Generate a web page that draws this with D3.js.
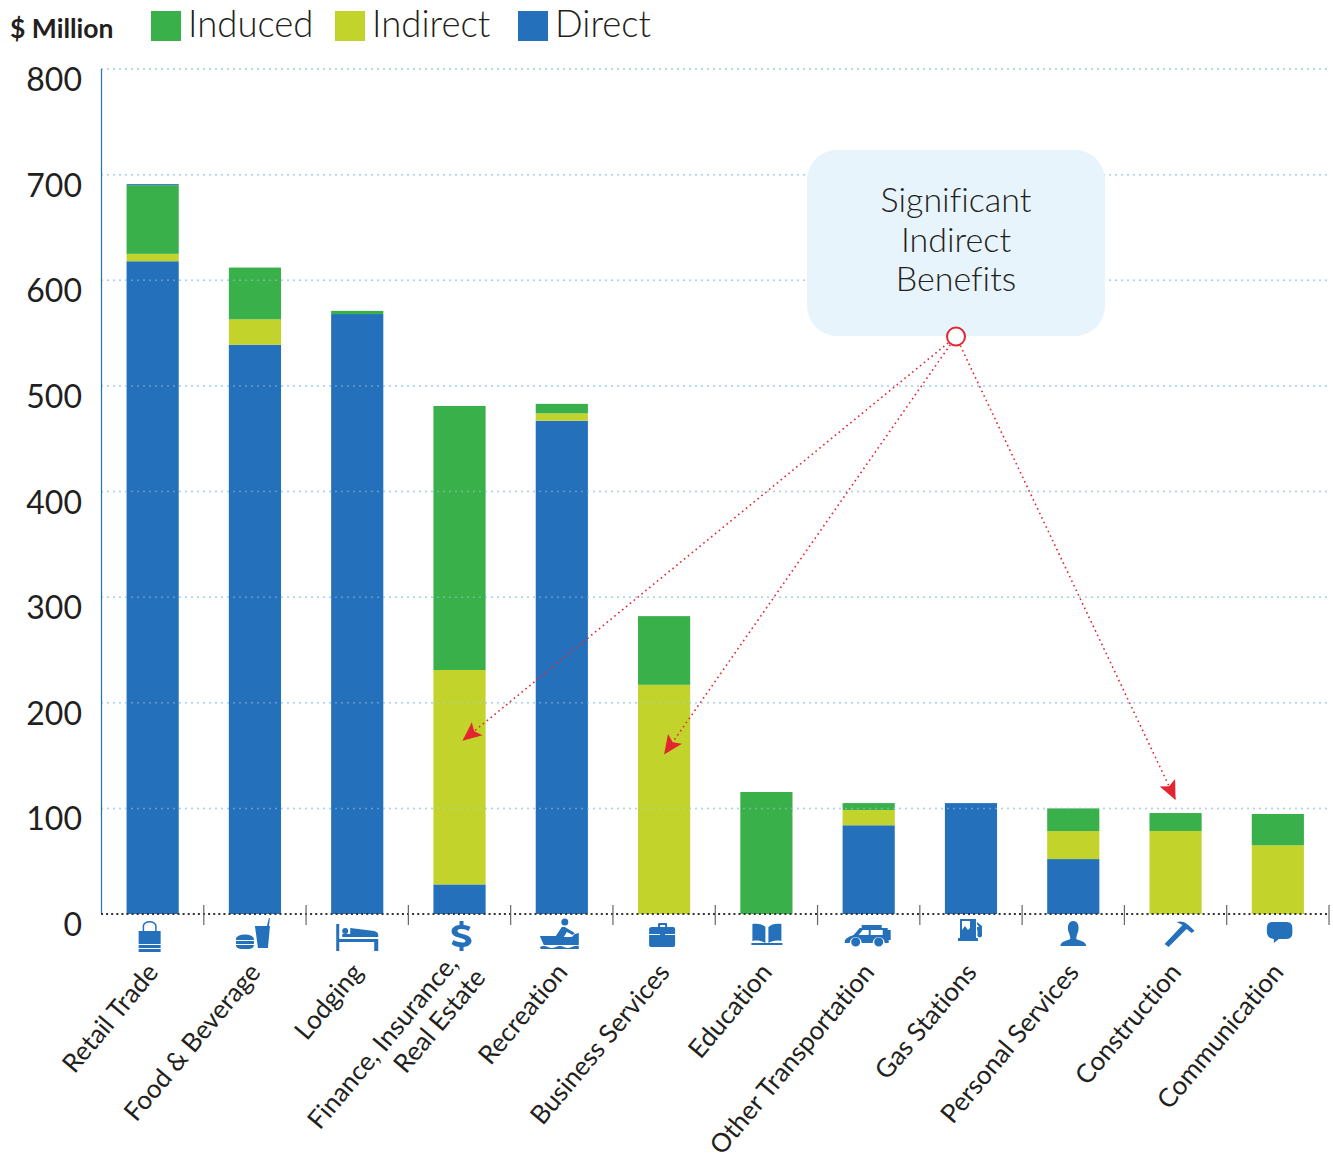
<!DOCTYPE html>
<html>
<head>
<meta charset="utf-8">
<script src="https://cdn.jsdelivr.net/npm/d3@7"></script>
<style>
html,body{margin:0;padding:0;background:#fff;overflow:hidden}
svg{display:block}
text{font-family:Lato,"Open Sans",sans-serif;fill:#231f20;font-variant-ligatures:none}
</style>
</head>
<body>
<svg id="chart" width="1333" height="1161"></svg>
<script>
const categories = ["Retail Trade","Food & Beverage","Lodging","Finance, Insurance,\nReal Estate","Recreation","Business Services","Education","Other Transportation","Gas Stations","Personal Services","Construction","Communication"];
const direct   = [618,539,568,28,467,0,0,84,105,52,0,0];
const indirect = [7,24,0,203,7,217,0,14.5,0,26.5,78.6,65];
const induced  = [65,49,3,250,9,65,115.5,6.5,0,21.5,17,29.7];
const topSliver = [1,0,0,0,0,0,0,0,0,0,0,0];
const yTicks = [0,100,200,300,400,500,600,700,800];
const legendLabels = ["Induced","Indirect","Direct"];
const calloutLines = ["Significant","Indirect","Benefits"];
const calloutTargets = [["Finance, Insurance,\nReal Estate",164],["Business Services",151],["Construction",108]];
const COL = {direct:"#2570bb",indirect:"#c2d42c",induced:"#39b04a",red:"#e2252f"};

const svg = d3.select("#chart");
const x = d3.scaleBand().domain(categories).range([101.5,1329]).paddingInner(0.49).paddingOuter(0.245);
const y = d3.scaleLinear().domain([0,800]).range([914,69]);
const cx = c => x(c)+x.bandwidth()/2;

function drawGrid(opacity){
  svg.append("g").attr("opacity",opacity).selectAll("line").data(yTicks.filter(d=>d>0)).join("line")
    .attr("x1",101).attr("x2",1329).attr("y1",d=>y(d)).attr("y2",d=>y(d))
    .attr("stroke","#a9d2f0").attr("stroke-width",1.5).attr("stroke-dasharray","2 4");
}

// y tick labels
svg.append("g").selectAll("text").data(yTicks).join("text")
  .attr("x",82).attr("y",d=>y(d)+22).attr("text-anchor","end")
  .attr("font-size",32).text(d=>d);

// stacked bars
const rows = categories.map((c,i)=>({c,direct:direct[i],indirect:indirect[i],induced:induced[i],sliver:topSliver[i]}));
const keys = ["direct","indirect","induced","sliver"];
const stacked = d3.stack().keys(keys)(rows);
drawGrid(1);
svg.append("g").selectAll("g").data(stacked).join("g")
  .attr("fill",s=>s.key==="sliver"?COL.direct:COL[s.key])
  .selectAll("rect").data(s=>s).join("rect")
  .attr("x",d=>x(d.data.c)).attr("width",x.bandwidth())
  .attr("y",d=>y(d[1])).attr("height",d=>y(d[0])-y(d[1]));
drawGrid(0.45);

// y axis line, dotted baseline, ticks
svg.append("line").attr("x1",101.5).attr("x2",101.5).attr("y1",69).attr("y2",914)
  .attr("stroke",COL.direct).attr("stroke-width",1.2);
svg.append("line").attr("x1",101).attr("x2",1329).attr("y1",914).attr("y2",914)
  .attr("stroke","#333").attr("stroke-width",2).attr("stroke-dasharray","2 3.1");
const step = x.step();
svg.append("g").selectAll("line").data(categories).join("line")
  .attr("x1",d=>cx(d)+step/2).attr("x2",d=>cx(d)+step/2)
  .attr("y1",905).attr("y2",925).attr("stroke","#666").attr("stroke-width",1.2);

// icons: local coordinates, origin = (bar centre - 3, 936)
const icons = [
 // bag
 "M-11,-5H11V8H-11Z M-7,-5V-10A7,5 0 0 1 7,-10V-5H5.5V-10A5.5,3.5 0 0 0 -5.5,-10V-5Z M-11,9H11V12H-11Z M-11,13H11V16H-11Z",
 // burger and drink
 "M3,-10H18L16,12H6Z M15,-10L17,-18H18L17,-10Z M-16,3A9,4.5 0 0 1 2,3V4H-16Z M-16,5H2V8H-16Z M-16,9H2A7,4 0 0 1 -3,13H-11A7,4 0 0 1 -16,9Z",
 // bed
 "M-18,-12H-15V3H24V15H20V6H-15V15H-18Z M-9,-8A3,3 0 1 1 -9,-2A3,3 0 1 1 -9,-8Z M-4,-8L20,-5Q24,-4 24,-1V1H-12V-2H-4Z",
 // dollar
 "M3,-15H7V-11C10,-11 12,-10 14,-9L12,-5C9,-7 1,-8 1,-5C1,-1 15,-3 15,5C15,8 11,11 7,11V15H3V11C1,11 -3,10 -5,8L-3,4C0,6 9,8 9,5C9,1 -5,3 -5,-5C-5,-8 -1,-11 3,-11Z",
 // rower
 "M2.5,-14A3.5,3.5 0 1 1 9.5,-14A3.5,3.5 0 1 1 2.5,-14Z M-19,0H-3L3,-9L6,-9L16,-3L14,-1L8,-4L5,1L13,1L16,-2L20,-3V9H-15Z M-19,11Q-15,9 -11,11T-3,11T5,11T13,11T20,10V13H-18Z",
 // briefcase
 "M-12,-7Q-12,-9 -9,-9H-3V-12A1,1 0 0 1 -2,-13H5A1,1 0 0 1 6,-12V-9H12Q14,-9 14,-7V9Q14,11 12,11H-9Q-12,11 -12,9Z M-1,-11V-9H4V-11Z M-12,-2H-1V-1H-12Z M4,-2H14V-1H4Z",
 // book
 "M-11,-12C-6,-13 -1,-12 2,-9V7C-1,5 -6,4 -11,5Z M5,-9C8,-12 13,-13 18,-12V5C13,4 8,5 5,7Z M-12,7H19V9H-12Z",
 // car
 "M-21,6C-21,2 -15,0 -12,-1L-6,-8H-4V-11H16V-8H22V-6H25V4H23V7H19A6,6 0 0 0 7,7H-4A6,6 0 0 0 -16,7H-21Z M-3,-6L-7,-1H3V-6Z M5,-6V-1H17V-6Z M-14.5,6A4.5,4.5 0 1 0 -5.5,6A4.5,4.5 0 1 0 -14.5,6Z M8.5,6A4.5,4.5 0 1 0 17.5,6A4.5,4.5 0 1 0 8.5,6Z",
 // gas pump
 "M-8,-17H8V2H10V5H-10V2H-8Z M-6,-15V-6L-3,-10L0,-6L2,-8V-15Z M9,-14L14,-10V0A2.5,2.5 0 0 1 9.5,0V-6H9V-9L11,-9L9,-12Z",
 // person
 "M3,-15C8,-15 9,-9 8,-5C7,-2 6,0 6,3C10,5 15,5 16,10H-10C-9,5 -4,5 0,3C0,0 -1,-2 -2,-5C-3,-9 -2,-15 3,-15Z",
 // hammer
 "M-8,8L10,-11L4,-14C10,-16 15,-13 22,-5L19,-3L14,-7L-4,11Z",
 // speech bubble
 "M-3,-14H12Q17.5,-14 17.5,-8V-3Q17.5,3 11,3H4L-1,7L-1,3Q-8,2 -8,-4V-8Q-8,-14 -3,-14Z"
];
svg.append("g").selectAll("path").data(categories).join("path")
  .attr("transform",d=>`translate(${cx(d)-3},936)`)
  .attr("d",(d,i)=>icons[i]).attr("fill",COL.direct).attr("fill-rule","evenodd");

// rotated category labels
const lab = svg.append("g").selectAll("g").data(categories).join("g")
  .attr("transform",d=>`translate(${cx(d)+7},973) rotate(-50)`);
lab.each(function(d){
  const g = d3.select(this), parts = d.split("\n");
  parts.forEach((t,i)=>{
    g.append("text").attr("text-anchor","end").attr("x",parts.length>1?(i===1?9:2):0)
      .attr("y",parts.length>1?(i-0.5)*30+4:0)
      .attr("font-size",26).text(t);
  });
});

// legend
svg.append("text").attr("x",10).attr("y",38).attr("font-size",26.5).attr("font-weight",700).text("$ Million");
const legendX = [151,335,518];
const legendColor = [COL.induced,COL.indirect,COL.direct];
const lg = svg.append("g").selectAll("g").data(legendLabels).join("g");
lg.append("rect").attr("x",(d,i)=>legendX[i]).attr("y",11).attr("width",30).attr("height",30).attr("fill",(d,i)=>legendColor[i]);
lg.append("text").attr("x",(d,i)=>legendX[i]+37).attr("y",37).attr("font-size",36.5).attr("font-weight",300).text(d=>d);

// callout
svg.append("rect").attr("x",807).attr("y",150).attr("width",298).attr("height",186).attr("rx",30).attr("fill","#e8f4fb");
svg.append("g").selectAll("text").data(calloutLines).join("text")
  .attr("x",956).attr("y",(d,i)=>212+i*39.5).attr("text-anchor","middle")
  .attr("font-size",34).attr("font-weight",300).text(d=>d);

// arrows from the callout marker
const marker = {x:956,y:336.5};
calloutTargets.forEach(([c,v],k)=>{
  const tx = cx(c)+(k===0?3:0);
  const ty = y(v);
  const a = Math.atan2(ty-marker.y,tx-marker.x);
  svg.append("line").attr("x1",marker.x).attr("y1",marker.y).attr("x2",tx).attr("y2",ty)
    .attr("stroke",COL.red).attr("stroke-width",1.6).attr("stroke-dasharray","1.6 3.4");
  const h = d3.path();
  const L=19,W=8.5,N=15;
  const p=(d,o)=>[tx+Math.cos(a)*d-Math.sin(a)*o,ty+Math.sin(a)*d+Math.cos(a)*o];
  h.moveTo(...p(0,0));h.lineTo(...p(-L,W));h.lineTo(...p(-N,0));h.lineTo(...p(-L,-W));h.closePath();
  svg.append("path").attr("d",h.toString()).attr("fill",COL.red);
});
svg.append("circle").attr("cx",marker.x).attr("cy",marker.y).attr("r",9).attr("fill","#fff").attr("stroke",COL.red).attr("stroke-width",2);
</script>
</body>
</html>
